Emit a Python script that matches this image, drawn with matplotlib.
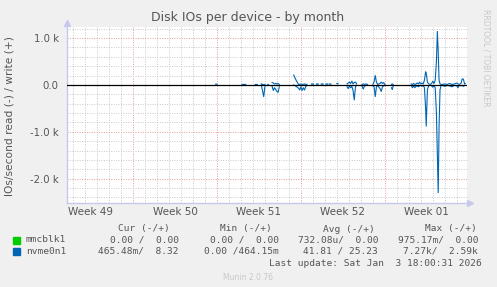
import numpy as np
import matplotlib
matplotlib.use("Agg")
import matplotlib.pyplot as plt
import matplotlib.transforms as mtransforms

nan = np.nan

# days relative to Monday of week 50; NaN breaks = no data
t = [6.9, 7.0, nan,
     9.1, 9.25, 9.4, nan,
     10.2, 10.35, nan,
     10.7, 10.8, 10.9, 11.0, nan,
     11.25, 11.3, nan,
     11.6, 11.7, 11.8, 11.9, 12.0, 12.1, 12.2, nan,
     13.4, 13.6, 13.8, 13.9, 14.0, 14.1, 14.2, 14.3, 14.4, 14.5, nan,
     14.9, 15.05, nan, 15.3, 15.45, nan, 15.7, 15.85, nan, 16.1, 16.25, nan, 16.4, 16.5, nan,
     17.0, 17.1, nan,
     17.85, 17.95, 18.05, 18.15, 18.25, 18.35, 18.45, 18.55, 18.65, nan,
     19.1, 19.2, 19.3, 19.45, 19.55, nan,
     20.0, 20.1, 20.2, 20.3, 20.4, 20.6, 20.7, 20.8, 20.9, 21.0, nan,
     21.55, 21.62, 21.7, nan,
     23.2, 23.3, 23.4, 23.5, 23.6, 23.7, 23.8, 23.9, 24.0, 24.1, 24.2, 24.3, 24.4, 24.45,
     24.55, 24.65, 24.8, 24.9, 25.0, 25.1, 25.2, 25.3, 25.38, 25.45, 25.52, 25.6, 25.7, nan,
     25.8, 26.0, 26.2, 26.4, 26.6, 26.8, 27.0, 27.1, 27.2, 27.35, 27.45, 27.55, 27.65, 27.7]

nvme_write = [15, 15, nan,
              10, 10, 10, nan,
              10, 10, nan,
              20, 10, 5, 10, nan,
              10, 10, nan,
              50, 40, 20, 30, 20, 30, 10, nan,
              210, 100, 10, 10, 20, 10, 10, 20, 10, 10, nan,
              20, 20, nan, 20, 20, nan, 20, 20, nan, 20, 20, nan, 20, 20, nan,
              30, 30, nan,
              20, 40, 60, 30, 80, 20, 50, 60, 20, nan,
              10, 20, 10, 20, 10, nan,
              10, 60, 200, 60, 10, 30, 60, 30, 50, 10, nan,
              10, 20, 10, nan,
              20, 10, 30, 10, 20, 40, 20, 60, 20, 40, 20, 100, 280, 250,
              60, 20, 10, 30, 80, 30, 100, 500, 1140, 700, 100, 20, 10, nan,
              10, 20, 10, 30, 10, 20, 40, 20, 10, 30, 130, 120, 20, 30]

nvme_read = [5, 5, nan,
             5, 5, 5, nan,
             0, 0, nan,
             0, 120, 250, 40, nan,
             10, 10, nan,
             30, 120, 60, 100, 140, 160, 40, nan,
             0, 30, 70, 110, 40, 120, 60, 110, 40, 10, nan,
             5, 5, nan, 5, 5, nan, 5, 5, nan, 5, 5, nan, 5, 5, nan,
             10, 10, nan,
             40, 80, 20, 60, 30, 120, 320, 40, 10, nan,
             30, 90, 20, 10, 5, nan,
             20, 40, 250, 40, 10, 80, 140, 40, 20, 10, nan,
             60, 100, 20, nan,
             10, 60, 20, 60, 30, 20, 40, 20, 10, 30, 10, 60, 500, 880,
             100, 20, 10, 20, 50, 20, 60, 600, 1500, 2300, 900, 100, 10, nan,
             10, 30, 10, 20, 40, 10, 20, 60, 10, 20, 10, 30, 10, 10]

week_labels = ["Week 49", "Week 50", "Week 51", "Week 52", "Week 01"]
week_centers = [-3.5, 3.5, 10.5, 17.5, 24.5]
y_ticks = [1000, 0, -1000, -2000]
y_ticklabels = ["1.0 k", "0.0", "-1.0 k", "-2.0 k"]

legend_names = ["mmcblk1", "nvme0n1"]
legend_colors = ["#00cc00", "#0066b3"]
col_heads = ["Cur (-/+)", "Min (-/+)", "Avg (-/+)", "Max (-/+)"]
col_values = [["0.00 /  0.00", "0.00 /  0.00", "732.08u/  0.00", "975.17m/  0.00"],
              ["465.48m/  8.32", "0.00 /464.15m", "41.81 / 25.23", "7.27k/  2.59k"]]

W, H = 497, 287
fig = plt.figure(figsize=(W / 100, H / 100), dpi=100, facecolor="#f0f0f0")
ax = fig.add_axes([67 / W, 1 - 203 / H, 400 / W, 176 / H], facecolor="white")

x = np.array(t)
ax.plot(x, nvme_write, color=legend_colors[1], lw=0.8, zorder=3)
ax.plot(x, -np.array(nvme_read), color=legend_colors[1], lw=0.8, zorder=3)
ax.axhline(0, color="black", lw=0.9, zorder=4)

ax.set_xlim(-5.5, 27.85)
ax.set_ylim(-2520, 1235)

ax.set_xticks([0, 7, 14, 21])
ax.set_xticks(np.arange(-5, 28), minor=True)
ax.set_yticks(y_ticks)
ax.set_yticklabels(y_ticklabels)
ax.set_yticks(np.arange(-2400, 1201, 200), minor=True)
ax.set_xticklabels([])
ax.tick_params(axis="both", which="both", length=0, labelsize=7.3, labelcolor="#555555", pad=6)
ax.grid(which="minor", color="#c8c8c8", lw=0.7, ls=(0, (1, 1.5)))
ax.grid(which="major", color="#e59a9a", lw=0.7, ls=(0, (1, 1.5)))
ax.set_axisbelow(True)
for s in ["top", "right"]:
    ax.spines[s].set_visible(False)
for s in ["left", "bottom"]:
    ax.spines[s].set_color("#c8c8ee")
    ax.spines[s].set_linewidth(1.0)
ax.plot(1.008, 0, ">", color="#c8c8ee", ms=4, transform=ax.transAxes, clip_on=False)
ax.plot(0, 1.02, "^", color="#c8c8ee", ms=4, transform=ax.transAxes, clip_on=False)

trans = mtransforms.blended_transform_factory(ax.transData, fig.transFigure)
for lab, c in zip(week_labels, week_centers):
    ax.text(c, 1 - 212 / H, lab, transform=trans, ha="center", va="center",
            fontsize=7.5, color="#555555")

fig.text(248 / W, 1 - 18 / H, "Disk IOs per device - by month", ha="center", va="center",
         fontsize=9, color="#555555")
fig.text(10 / W, 1 - 116 / H, "IOs/second read (-) / write (+)", rotation=90,
         ha="center", va="center", fontsize=7.7, color="#555555")
fig.text(486 / W, 1 - 58 / H, "RRDTOOL / TOBI OETIKER", rotation=270,
         ha="center", va="center", fontsize=5.5, color="#c8c8c8")

mono = dict(family="DejaVu Sans Mono", fontsize=6.8, color="#555555", va="center")
head_right = [170, 272, 375, 477]
val_right = [179, 279, 378, 478]
for hx, h in zip(head_right, col_heads):
    fig.text(hx / W, 1 - 229 / H, h, ha="right", **mono)
row_y = [240, 251.5]
for ry, name, col, vals in zip(row_y, legend_names, legend_colors, col_values):
    fig.patches.append(plt.Rectangle((13 / W, 1 - (ry + 3.5) / H), 7 / W, 7 / H,
                                     transform=fig.transFigure, color=col))
    fig.text(26 / W, 1 - ry / H, name, ha="left", **mono)
    for vx, v in zip(val_right, vals):
        fig.text(vx / W, 1 - ry / H, v, ha="right", **mono)
fig.text(482 / W, 1 - 264 / H, "Last update: Sat Jan  3 18:00:31 2026", ha="right", **mono)
fig.text(248 / W, 1 - 277 / H, "Munin 2.0.76", ha="center", va="center",
         fontsize=5.5, color="#c8c8c8")

fig.savefig("out.png", dpi=100, facecolor=fig.get_facecolor())
